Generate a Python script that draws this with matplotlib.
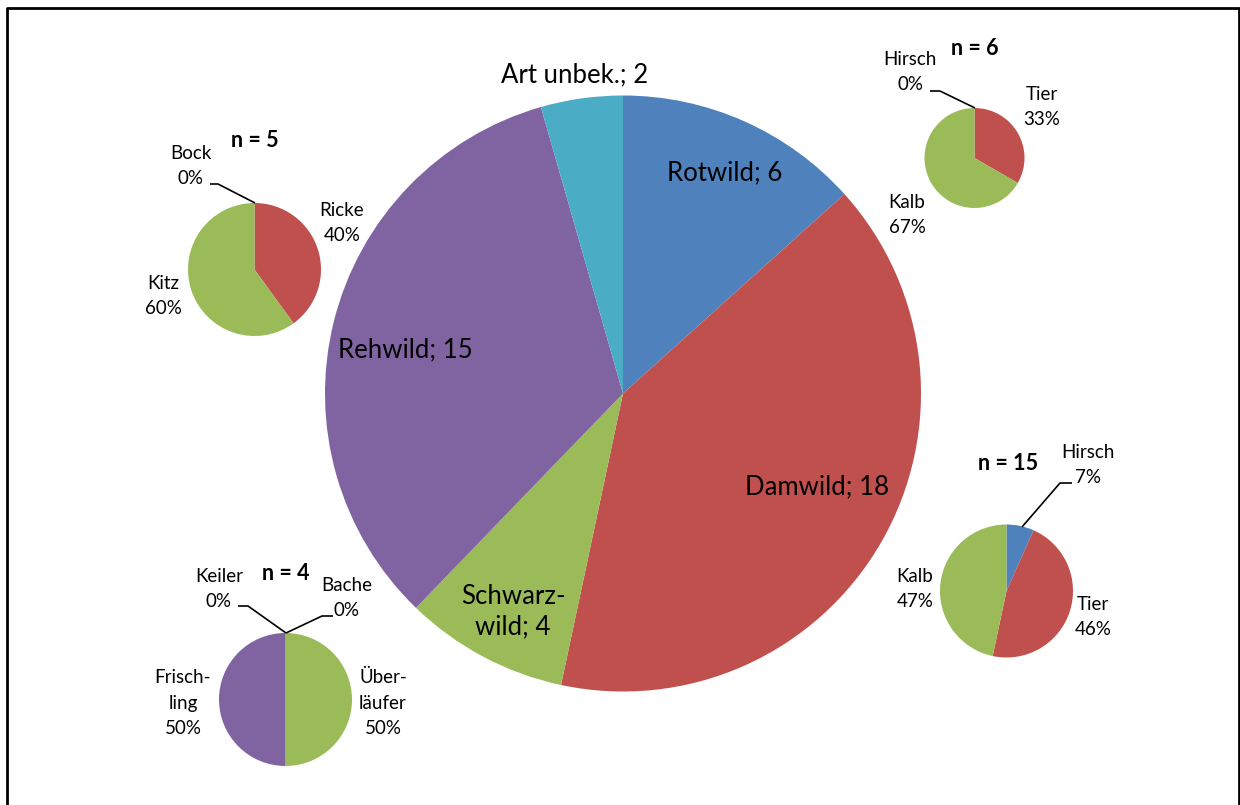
import matplotlib
matplotlib.use("Agg")
import matplotlib.pyplot as plt

plt.rcParams['font.family'] = ['Lato', 'DejaVu Sans']

W, H = 1240, 805

# ---------------- data ----------------
main_labels = ["Rotwild; 6", "Damwild; 18", "Schwarz-\nwild; 4", "Rehwild; 15", "Art unbek.; 2"]
main_values = [6, 18, 4, 15, 2]

rot_cats = ["Hirsch", "Tier", "Kalb"]
rot_values = [0, 2, 4]
rot_pct = ["0%", "33%", "67%"]
rot_n = "n = 6"

reh_cats = ["Bock", "Ricke", "Kitz"]
reh_values = [0, 2, 3]
reh_pct = ["0%", "40%", "60%"]
reh_n = "n = 5"

sw_cats = ["Keiler", "Bache", "Über-\nläufer", "Frisch-\nling"]
sw_values = [0, 0, 2, 2]
sw_pct = ["0%", "0%", "50%", "50%"]
sw_n = "n = 4"

dam_cats = ["Hirsch", "Tier", "Kalb"]
dam_values = [1, 7, 7]
dam_pct = ["7%", "46%", "47%"]
dam_n = "n = 15"

# ---------------- style ----------------
BLUE, RED, GREEN, PURPLE, AQUA = "#4F81BD", "#C0504D", "#9BBB59", "#8064A2", "#4BACC6"
main_colors = [BLUE, RED, GREEN, PURPLE, AQUA]

fig = plt.figure(figsize=(W / 100, H / 100), dpi=100)
ax = fig.add_axes([0, 0, 1, 1])
ax.set_xlim(0, W)
ax.set_ylim(0, H)
ax.set_aspect('equal')
ax.axis('off')


def fy(y):
    return H - y


def pie(values, colors, cx, cy, r):
    ax.pie(values, colors=colors, startangle=90, counterclock=False,
           center=(cx, fy(cy)), radius=r, normalize=True,
           wedgeprops=dict(linewidth=0), frame=True)


# main pie
pie(main_values, main_colors, 623, 393.5, 298)
main_pos = [(725, 173), (817, 487), (513, 612), (405, 350), (575, 75)]
for lab_, (x, y) in zip(main_labels, main_pos):
    ax.text(x, fy(y), lab_, ha='center', va='center', fontsize=18.5, linespacing=1.25)

SMALL = 13.5
NSIZE = 15.5
def lab(x, y, text):
    ax.text(x, fy(y), text, ha='center', va='center', fontsize=SMALL, linespacing=1.6)

def leader(pts):
    ax.plot([p[0] for p in pts], [fy(p[1]) for p in pts], color='black', lw=1.2,
            solid_capstyle='butt')

# Rotwild sub pie
pie(rot_values, [BLUE, RED, GREEN], 974.5, 158, 50)
ax.text(975, fy(48), rot_n, ha='center', va='center', fontsize=NSIZE, fontweight='bold')
lab(910, 72, rot_cats[0] + "\n" + rot_pct[0])
lab(1042, 107, rot_cats[1] + "\n" + rot_pct[1])
lab(907, 215, rot_cats[2] + "\n" + rot_pct[2])
leader([(930, 91), (940, 91), (975, 108)])

# Rehwild sub pie
pie(reh_values, [BLUE, RED, GREEN], 254.5, 269.5, 66.5)
ax.text(255, fy(140), reh_n, ha='center', va='center', fontsize=NSIZE, fontweight='bold')
lab(191, 166, reh_cats[0] + "\n" + reh_pct[0])
lab(342, 223, reh_cats[1] + "\n" + reh_pct[1])
lab(163, 296, reh_cats[2] + "\n" + reh_pct[2])
leader([(210, 184), (218, 184), (255, 203)])

# Schwarzwild sub pie
pie(sw_values, [BLUE, RED, GREEN, PURPLE], 285.5, 699.5, 66.5)
ax.text(286, fy(573), sw_n, ha='center', va='center', fontsize=NSIZE, fontweight='bold')
lab(219, 589, sw_cats[0] + "\n" + sw_pct[0])
lab(347, 598, sw_cats[1] + "\n" + sw_pct[1])
lab(383, 703, sw_cats[2] + "\n" + sw_pct[2])
lab(183, 703, sw_cats[3] + "\n" + sw_pct[3])
leader([(238, 606), (248, 606), (286, 633)])
leader([(286, 633), (322, 616), (333, 616)])

# Damwild sub pie
pie(dam_values, [BLUE, RED, GREEN], 1006.5, 591, 66.5)
ax.text(1008, fy(463), dam_n, ha='center', va='center', fontsize=NSIZE, fontweight='bold')
lab(1088, 465, dam_cats[0] + "\n" + dam_pct[0])
lab(1093, 617, dam_cats[1] + "\n" + dam_pct[1])
lab(915, 589, dam_cats[2] + "\n" + dam_pct[2])
leader([(1022, 527), (1060, 483), (1072, 483)])

ax.set_xlim(0, W)
ax.set_ylim(0, H)
ax.axis('off')

# frame
ax.plot([7, 7, 1238.5, 1238.5], [fy(810), fy(8), fy(8), fy(810)], color='black', lw=2,
        clip_on=False)

fig.savefig("out.png", dpi=100)
